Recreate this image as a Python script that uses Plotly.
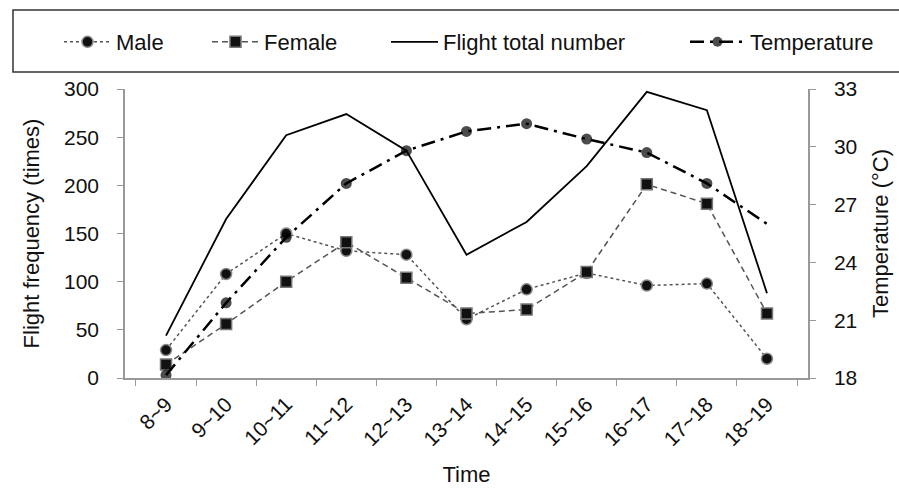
import plotly.graph_objects as go

categories = ["8~9", "9~10", "10~11", "11~12", "12~13", "13~14", "14~15", "15~16", "16~17", "17~18", "18~19"]
male = [29, 108, 150, 132, 128, 61, 92, 109, 96, 98, 20]
female = [14, 56, 100, 141, 104, 67, 71, 110, 201, 181, 67]
total = [44, 165, 252, 274, 236, 128, 162, 220, 297, 278, 88]
temperature = [18.15, 21.9, 25.3, 28.1, 29.8, 30.8, 31.2, 30.4, 29.7, 28.1, 26.0]

FONT = "Liberation Sans, Arial, sans-serif"
W, H = 899, 489
fig = go.Figure()
fig.add_trace(go.Scatter(
    x=categories, y=male, name="Male", mode="lines+markers", legend="legend",
    line=dict(color="#555555", width=1.5, dash="dot"),
    marker=dict(symbol="circle", size=11, color="#111111", line=dict(color="#888888", width=1.5)),
))
fig.add_trace(go.Scatter(
    x=categories, y=female, name="Female", mode="lines+markers", legend="legend2",
    line=dict(color="#555555", width=1.5, dash="6px,4px"),
    marker=dict(symbol="square", size=11, color="#111111", line=dict(color="#777777", width=1.5)),
))
fig.add_trace(go.Scatter(
    x=categories, y=total, name="Flight total number", mode="lines", legend="legend3",
    line=dict(color="#000000", width=1.8),
))
msz = [11] * (len(temperature) - 1) + [0]
fig.add_trace(go.Scatter(
    x=categories, y=temperature, name="Temperature", mode="lines+markers", yaxis="y2",
    legend="legend4",
    line=dict(color="#000000", width=2.5, dash="14px,6px,3px,6px"),
    marker=dict(symbol="circle", size=msz, color="#000000", line=dict(color="#000000", width=0)),
))


def leg(px, iw):
    return dict(orientation="h", xref="container", yref="container",
                x=px / W, xanchor="left", y=1 - 42 / H, yanchor="middle",
                font=dict(family=FONT, size=22), itemwidth=iw,
                bgcolor="rgba(0,0,0,0)", borderwidth=0)


fig.update_layout(
    width=W, height=H,
    margin=dict(l=125, r=91, t=89, b=111, autoexpand=False),
    paper_bgcolor="white", plot_bgcolor="white",
    font=dict(family=FONT, size=21, color="#111111"),
    showlegend=True,
    legend=leg(59, 47), legend2=leg(207, 47), legend3=leg(386, 47), legend4=leg(685, 55),
    xaxis=dict(
        type="category", tickangle=-45, tickson="boundaries", ticks="outside", ticklen=6,
        tickcolor="#999999", showline=True, linecolor="#999999", linewidth=1.5,
        showgrid=False, tickfont=dict(size=21), automargin=False, ticklabelstandoff=4,
        title=dict(text="Time", font=dict(size=22), standoff=17),
    ),
    yaxis=dict(
        range=[0, 300], dtick=50, ticks="outside", ticklen=6, tickcolor="#999999",
        showline=True, linecolor="#999999", linewidth=1.5, showgrid=False, zeroline=False,
        tickfont=dict(size=21), automargin=False, ticklabelstandoff=14,
        title=dict(text="Flight frequency (times)", font=dict(size=22), standoff=18),
    ),
    yaxis2=dict(
        range=[18, 33], dtick=3, overlaying="y", side="right", ticks="outside", ticklen=6,
        tickcolor="#999999", showline=True, linecolor="#999999", linewidth=1.5,
        showgrid=False, zeroline=False, tickfont=dict(size=21), automargin=False,
        ticklabelstandoff=14,
        title=dict(text="Temperature (°C)", font=dict(size=22), standoff=16),
    ),
    shapes=[dict(type="rect", xref="paper", yref="paper",
                 x0=-0.164, x1=1.2, y0=1.0588, y1=1.273,
                 line=dict(color="#333333", width=1.5), fillcolor="rgba(0,0,0,0)")],
)

fig.write_html("out.html", config={"displayModeBar": False},
               post_script="document.body.style.margin='0';")
